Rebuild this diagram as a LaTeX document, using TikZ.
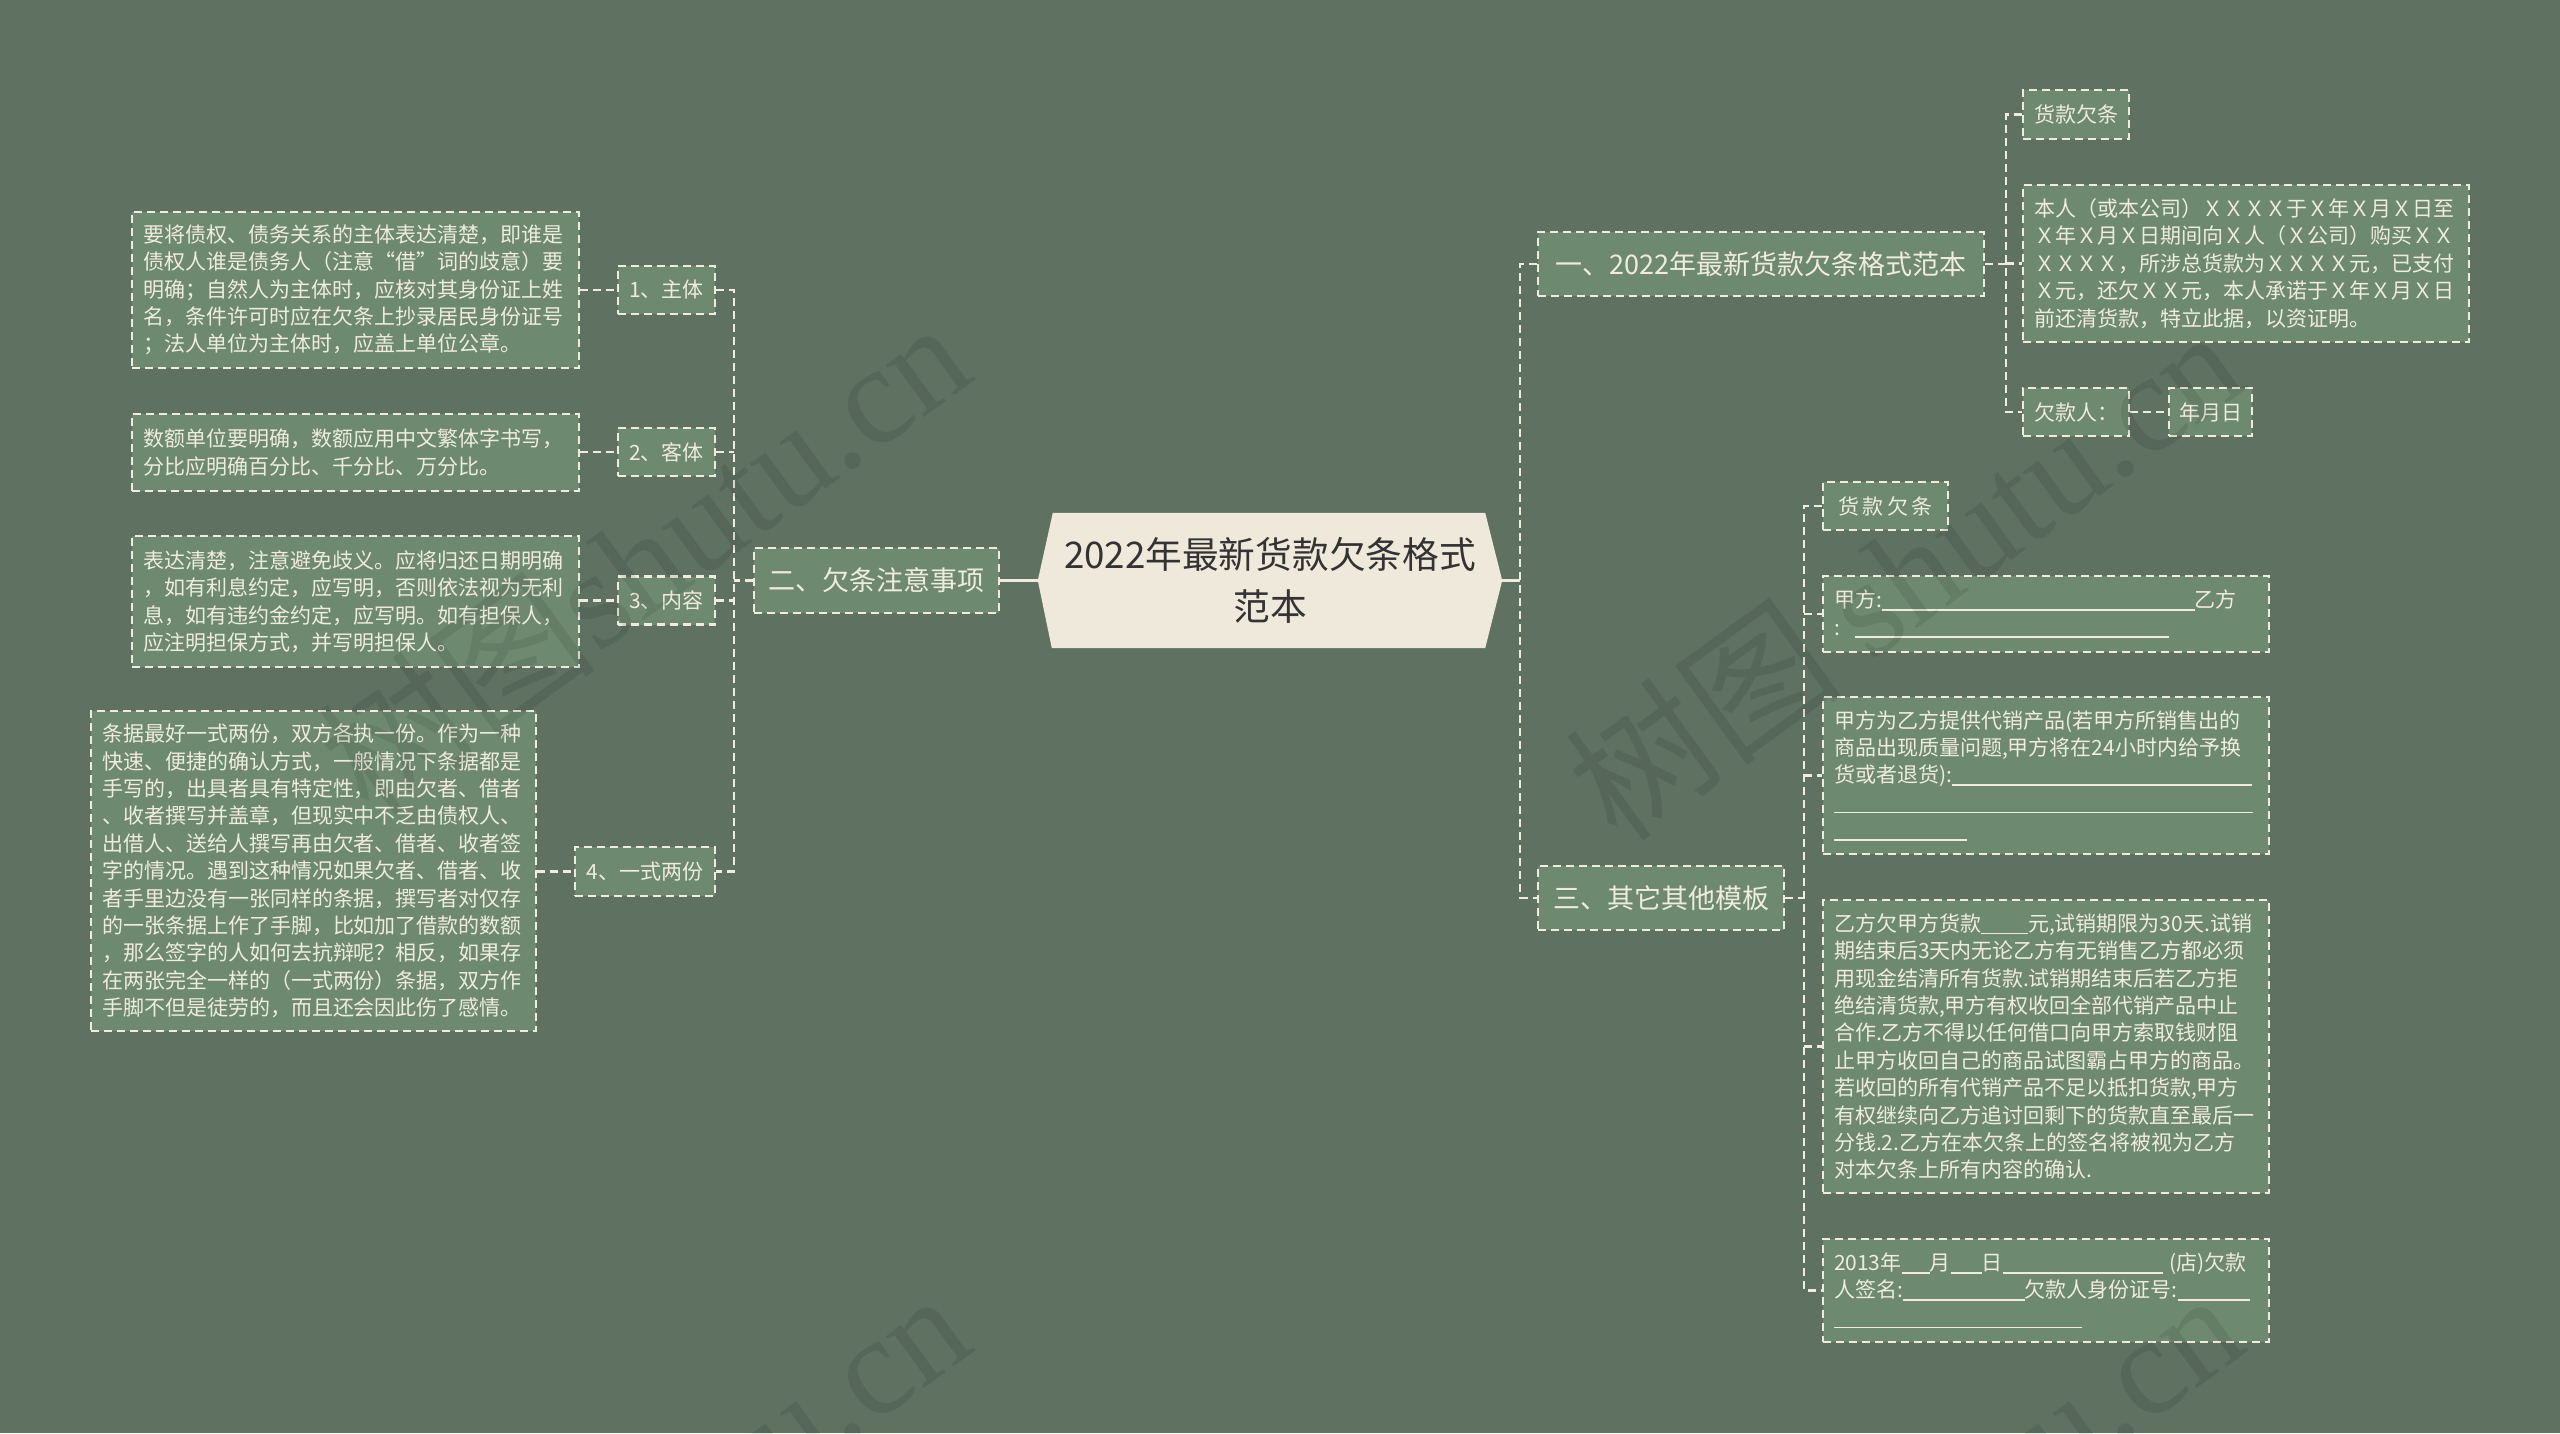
\documentclass[tikz,border=0pt]{standalone}
\usepackage{fontspec}
\setmainfont{Noto Sans CJK SC}
\newfontfamily\wmfont{Liberation Serif}
\usetikzlibrary{backgrounds}
\definecolor{bgc}{HTML}{5F7262}
\definecolor{boxc}{HTML}{6D8A71}
\definecolor{linec}{HTML}{EFEBDD}
\definecolor{rootc}{HTML}{EEE9DA}
\definecolor{rtext}{HTML}{333333}
\newcommand{\blank}[1]{\rule[-3pt]{#1pt}{1.6pt}}
\begin{document}
\begin{tikzpicture}[x=1pt,y=-1pt,
  dbox/.style={draw=linec, fill=boxc, line width=2.2pt, dash pattern=on 8pt off 5pt, text=linec},
  bx/.style 2 args={dbox, text width=#1, minimum height=#2, inner xsep=11pt, inner ysep=0pt, align=left, font=\fontsize{21pt}{27.4pt}\selectfont},
  sm/.style 2 args={dbox, minimum width=#1, minimum height=#2, inner sep=0pt, align=center, font=\fontsize{21pt}{27pt}\selectfont},
  br/.style 2 args={dbox, minimum width=#1, minimum height=#2, inner sep=0pt, align=center, font=\fontsize{27pt}{32pt}\selectfont},
  conn/.style={draw=linec, line width=2.2pt, dash pattern=on 8pt off 5pt},
  sconn/.style={draw=linec, line width=3.5pt},
  wm/.style={text=black, text opacity=0.09, rotate=36, anchor=east, inner sep=0pt, font=\fontsize{140pt}{140pt}\selectfont}
]
\useasboundingbox (0,0) rectangle (2560,1433);

% root
\node[minimum width=464pt, minimum height=135pt, inner sep=0pt, align=center, text=rtext, font=\fontsize{36.7pt}{52pt}\selectfont] (root) at (1270,580.5) {2022年最新货款欠条格式\\范本};
\begin{scope}[on background layer]
  \fill[bgc] (0,0) rectangle (2560,1433);
  \fill[rootc] (root.west) -- ([xshift=15pt]root.north west) -- ([xshift=-17pt]root.north east) -- (root.east) -- ([xshift=-17pt]root.south east) -- ([xshift=14pt]root.south west) -- cycle;
\end{scope}

% left branch
\node[br={245pt}{65pt}] (n2) at (876.5,580.5) {二、欠条注意事项};
\node[sm={97pt}{48pt}] (c1) at (666.5,290) {1、主体};
\node[sm={97pt}{48pt}] (c2) at (666.5,452) {2、客体};
\node[sm={97pt}{48pt}] (c3) at (666.5,600.5) {3、内容};
\node[sm={140pt}{49pt}] (c4) at (645,871.5) {4、一式两份};

\node[bx={425pt}{156pt}] (A) at (355.5,290) {要将债权、债务关系的主体表达清楚，即谁是\\债权人谁是债务人（注意“借”词的歧意）要\\明确；自然人为主体时，应核对其身份证上姓\\名，条件许可时应在欠条上抄录居民身份证号\\；法人单位为主体时，应盖上单位公章。};
\node[bx={425pt}{77pt}] (B) at (355.5,452.5) {数额单位要明确，数额应用中文繁体字书写，\\分比应明确百分比、千分比、万分比。};
\node[bx={425pt}{131pt}] (C) at (355.5,601.5) {表达清楚，注意避免歧义。应将归还日期明确\\，如有利息约定，应写明，否则依法视为无利\\息，如有违约金约定，应写明。如有担保人，\\应注明担保方式，并写明担保人。};
\node[bx={423pt}{320pt}] (D) at (313.5,871) {条据最好一式两份，双方各执一份。作为一种\\快速、便捷的确认方式，一般情况下条据都是\\手写的，出具者具有特定性，即由欠者、借者\\、收者撰写并盖章，但现实中不乏由债权人、\\出借人、送给人撰写再由欠者、借者、收者签\\字的情况。遇到这种情况如果欠者、借者、收\\者手里边没有一张同样的条据，撰写者对仅存\\的一张条据上作了手脚，比如加了借款的数额\\，那么签字的人如何去抗辩呢？相反，如果存\\在两张完全一样的（一式两份）条据，双方作\\手脚不但是徒劳的，而且还会因此伤了感情。};

% right top branch
\node[br={446pt}{64pt}] (n1) at (1761,264) {一、2022年最新货款欠条格式范本};
\node[sm={106pt}{49pt}] (r1) at (2076,114.5) {货款欠条};
\node[bx={424pt}{157pt}] (E) at (2246,263.5) {本人（或本公司）ＸＸＸＸ于Ｘ年Ｘ月Ｘ日至\\Ｘ年Ｘ月Ｘ日期间向Ｘ人（Ｘ公司）购买ＸＸ\\ＸＸＸＸ，所涉总货款为ＸＸＸＸ元，已支付\\Ｘ元，还欠ＸＸ元，本人承诺于Ｘ年Ｘ月Ｘ日\\前还清货款，特立此据，以资证明。};
\node[sm={106pt}{48pt}] (r3) at (2076,412) {欠款人：};
\node[sm={83pt}{48pt}] (r4) at (2210.5,412) {年月日};

% right bottom branch
\node[br={246pt}{64pt}] (n3) at (1661,898) {三、其它其他模板};
\node[sm={125pt}{48pt}] (s1) at (1885.5,506) {货\,款\,欠\,条};
\node[bx={424pt}{76pt}] (F) at (2046,614) {甲方:\blank{313}乙方\\:\hspace{15pt}\blank{314}};
\node[bx={424pt}{157pt}] (G) at (2046,775.5) {甲方为乙方提供代销产品(若甲方所销售出的\\商品出现质量问题,甲方将在24小时内给予换\\货或者退货):\blank{300}\\\blank{419}\\\blank{133}};
\node[bx={424pt}{293pt}] (H) at (2046,1046.5) {乙方欠甲方货款\blank{47}元,试销期限为30天.试销\\期结束后3天内无论乙方有无销售乙方都必须\\用现金结清所有货款.试销期结束后若乙方拒\\绝结清货款,甲方有权收回全部代销产品中止\\合作.乙方不得以任何借口向甲方索取钱财阻\\止甲方收回自己的商品试图霸占甲方的商品。\\若收回的所有代销产品不足以抵扣货款,甲方\\有权继续向乙方追讨回剩下的货款直至最后一\\分钱.2.乙方在本欠条上的签名将被视为乙方\\对本欠条上所有内容的确认.};
\node[bx={424pt}{103pt}] (I) at (2046,1290.5) {2013年\blank{28}月\blank{31}日\blank{160} (店)欠款\\人签名:\blank{122}欠款人身份证号:\blank{72}\\\blank{248}};

% connectors: root
\draw[sconn] (n2.east) -- (root.west);
\draw[sconn] (root.east) -- ++(18,0) coordinate (rv);
\draw[conn] (n1.west) -- (n1.west -| rv) -- (n3.west -| rv) -- (n3.west);

% left tree
\draw[conn] (n2.west) -- ++(-19,0) coordinate (lv);
\draw[conn] (c1.east) -- (c1.east -| lv) -- (c4.east -| lv) -- (c4.east);
\draw[conn] (c2.east) -- (c2.east -| lv);
\draw[conn] (c3.east) -- (c3.east -| lv);
\draw[conn] (c1.west -| A.east) -- (c1.west);
\draw[conn] (c2.west -| B.east) -- (c2.west);
\draw[conn] (c3.west -| C.east) -- (c3.west);
\draw[conn] (c4.west -| D.east) -- (c4.west);

% right top tree
\draw[conn] (n1.east) -- ++(21,0) coordinate (tv);
\draw[conn] (r1.west) -- (r1.west -| tv) -- (r3.west -| tv) -- (r3.west);
\draw[conn] (E.west -| tv) -- (E.west);
\draw[conn] (r3.east) -- (r4.west);

% right bottom tree
\draw[conn] (n3.east) -- ++(19,0) coordinate (bv);
\draw[conn] (s1.west) -- (s1.west -| bv) -- (I.west -| bv) -- (I.west);
\draw[conn] (F.west -| bv) -- (F.west);
\draw[conn] (G.west -| bv) -- (G.west);
\draw[conn] (H.west -| bv) -- (H.west);

% watermarks
\node[wm] (wm1) at (947,335) {树图{\wmfont shutu.cn}};
\node[wm] (wm2) at (2220,343) {树图 {\wmfont shutu.cn}};
\node[wm] (wm3) at (947,1306) {树图{\wmfont shutu.cn}};
\node[wm] (wm4) at (2220,1306) {树图 {\wmfont shutu.cn}};
\end{tikzpicture}
\end{document}
